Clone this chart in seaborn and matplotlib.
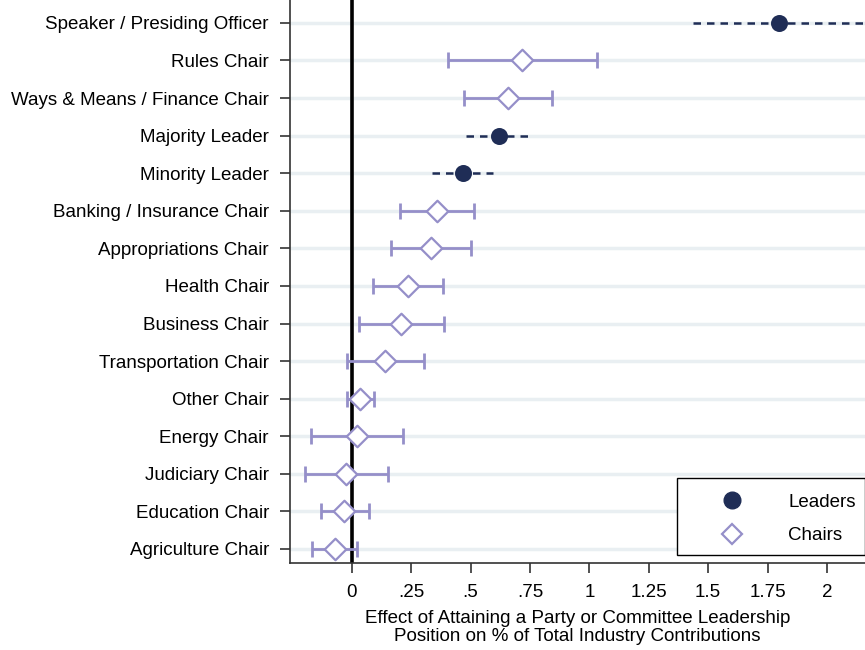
import numpy as np
import pandas as pd
import matplotlib
matplotlib.use("Agg")
import matplotlib.pyplot as plt
import seaborn as sns
from matplotlib.lines import Line2D
from matplotlib.patches import Rectangle

# positions, top to bottom
positions = ["Speaker / Presiding Officer", "Rules Chair", "Ways & Means / Finance Chair",
             "Majority Leader", "Minority Leader", "Banking / Insurance Chair",
             "Appropriations Chair", "Health Chair", "Business Chair",
             "Transportation Chair", "Other Chair", "Energy Chair", "Judiciary Chair",
             "Education Chair", "Agriculture Chair"]
groups = ["Leaders", "Chairs", "Chairs", "Leaders", "Leaders", "Chairs", "Chairs", "Chairs",
          "Chairs", "Chairs", "Chairs", "Chairs", "Chairs", "Chairs", "Chairs"]
estimates = [1.798, 0.716, 0.657, 0.619, 0.467, 0.358, 0.333, 0.236, 0.206,
             0.139, 0.034, 0.021, -0.025, -0.034, -0.072]
ci_low = [1.436, 0.404, 0.472, 0.480, 0.337, 0.202, 0.164, 0.088, 0.029,
          -0.021, -0.021, -0.173, -0.198, -0.131, -0.168]
ci_high = [2.160, 1.032, 0.842, 0.762, 0.594, 0.514, 0.501, 0.383, 0.387,
           0.303, 0.093, 0.215, 0.152, 0.072, 0.021]
x_ticks = [0, 0.25, 0.5, 0.75, 1, 1.25, 1.5, 1.75, 2]
x_tick_labels = ["0", ".25", ".5", ".75", "1", "1.25", "1.5", "1.75", "2"]

df = pd.DataFrame({"position": positions, "group": groups, "est": estimates,
                   "lo": ci_low, "hi": ci_high})
df["row"] = np.arange(len(df))

navy = "#1f2d56"
purple = "#958fc9"
fs = 13.5

sns.set_style("white")
plt.rcParams["font.family"] = ["Liberation Sans", "DejaVu Sans"]
plt.rcParams["text.color"] = "black"
plt.rcParams["axes.labelcolor"] = "black"
plt.rcParams["xtick.labelcolor"] = "black"
plt.rcParams["ytick.labelcolor"] = "black"

fig = plt.figure(figsize=(8.65, 6.5), dpi=100)
ax = fig.add_axes([0.335, 0.134, 0.665, 0.866])

# horizontal grid lines at each row
for r in df["row"]:
    ax.axhline(r, color="#e9eff2", lw=2.5, zorder=0)

ax.axvline(0, color="black", lw=2.6, zorder=1)

# error bars
lead = df[df["group"] == "Leaders"]
chair = df[df["group"] == "Chairs"]
for _, d in lead.iterrows():
    ax.plot([d["lo"], d["hi"]], [d["row"], d["row"]], color=navy, lw=1.8,
            ls=(0, (3, 2.4)), zorder=2)
ax.errorbar(chair["est"], chair["row"], xerr=[chair["est"] - chair["lo"], chair["hi"] - chair["est"]],
            fmt="none", ecolor=purple, elinewidth=2, capsize=6, capthick=2, zorder=2)

sns.scatterplot(data=lead, x="est", y="row", color=navy, marker="o", s=150,
                edgecolor=navy, linewidth=0, ax=ax, zorder=3, legend=False)
ax.scatter(chair["est"], chair["row"], marker="D", s=120, facecolor="white",
           edgecolor=purple, linewidth=1.6, zorder=3)

ax.set_xlim(-0.261, 2.16)
ax.set_ylim(14.37, -0.61)
ax.set_xticks(x_ticks)
ax.set_xticklabels(x_tick_labels)
ax.set_yticks(df["row"])
ax.set_yticklabels(positions)
ax.tick_params(axis="both", labelsize=fs, length=7, width=1.2, color="#333333",
               direction="out", bottom=True, left=True, pad=8.5)
ax.tick_params(axis="y", pad=8)
ax.set_xlabel("Effect of Attaining a Party or Committee Leadership\nPosition on % of Total Industry Contributions",
              fontsize=fs, linespacing=1.1, labelpad=6)
ax.set_ylabel("")
for s in ["top", "right"]:
    ax.spines[s].set_visible(False)
for s in ["left", "bottom"]:
    ax.spines[s].set_color("#333333")
    ax.spines[s].set_linewidth(1.2)

# legend box drawn by hand, entries placed inside
ax.add_patch(Rectangle((0.673, 0.0142), 0.327, 0.137, transform=ax.transAxes,
                       facecolor="white", edgecolor="black", lw=1.0, zorder=5, clip_on=False))
handles = [Line2D([], [], ls="none", marker="o", markersize=12, color=navy),
           Line2D([], [], ls="none", marker="D", markersize=10, markerfacecolor="white",
                  markeredgecolor=purple, markeredgewidth=1.6)]
leg = ax.legend(handles, ["Leaders", "Chairs"], loc="center left", bbox_to_anchor=(0.736, 0.078),
                fontsize=fs, frameon=False, handletextpad=2.0, borderpad=0, labelspacing=0.88,
                borderaxespad=0, handlelength=2.0)
leg.set_zorder(6)

fig.savefig("out.png", dpi=100)
